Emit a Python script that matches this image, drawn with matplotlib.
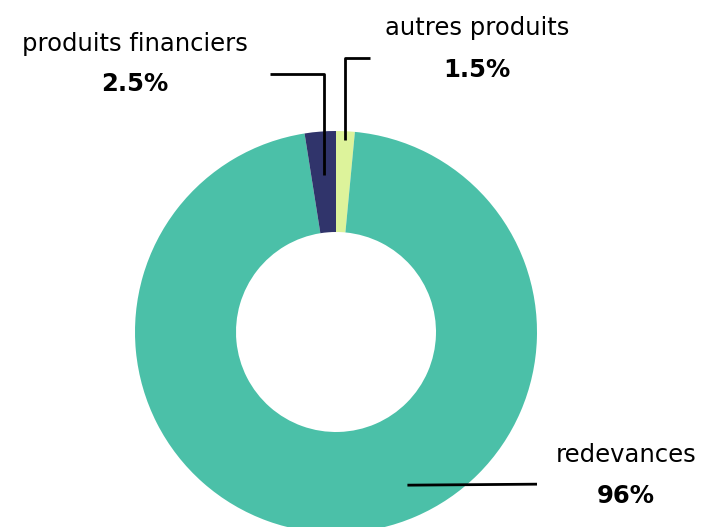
import numpy as np
import matplotlib.pyplot as plt

plt.rcParams['font.family'] = ['DejaVu Sans']

# données
labels = ['autres produits', 'redevances', 'produits financiers']
values = [1.5, 96, 2.5]
pct_labels = ['1.5%', '96%', '2.5%']
colors = ['#ddf39b', '#4bc0a8', '#30346b']

W, H = 705, 527
fig = plt.figure(figsize=(W / 100, H / 100), dpi=100)
ax = fig.add_axes([0, 0, 1, 1])

cx, cy, R = 336, H - 332, 201
wedges, _ = ax.pie(values, colors=colors, startangle=90, counterclock=False,
                   center=(cx, cy), radius=R,
                   wedgeprops=dict(width=101, linewidth=0))
ax.set_xlim(0, W)
ax.set_ylim(0, H)
ax.set_aspect('equal')
ax.axis('off')


def pt(ang, r):
    a = np.deg2rad(ang)
    return cx + r * np.cos(a), cy + r * np.sin(a)


def mid(w):
    return (w.theta1 + w.theta2) / 2


lw = 2.0
# autres produits
x0, y0 = pt(mid(wedges[0]), 192)
ax.plot([x0, x0, x0 + 25], [y0, H - 58, H - 58], color='black', lw=lw, solid_capstyle='butt')
# produits financiers
x0, y0 = pt(mid(wedges[2]), 157)
ax.plot([x0, x0, x0 - 54], [y0, H - 74, H - 74], color='black', lw=lw, solid_capstyle='butt')
# redevances
x0, y0 = pt(-65, 169)
ax.plot([x0, 537], [y0, y0 + 1], color='black', lw=lw, solid_capstyle='butt')

fs = 17.5
ax.text(477, H - 28, labels[0], ha='center', va='center', fontsize=fs)
ax.text(477, H - 70, pct_labels[0], ha='center', va='center', fontsize=fs, fontweight='bold')
ax.text(135, H - 44, labels[2], ha='center', va='center', fontsize=fs)
ax.text(135, H - 84, pct_labels[2], ha='center', va='center', fontsize=fs, fontweight='bold')
ax.text(626, H - 455, labels[1], ha='center', va='center', fontsize=fs)
ax.text(626, H - 496, pct_labels[1], ha='center', va='center', fontsize=fs, fontweight='bold')

fig.savefig('out.png', dpi=100)
